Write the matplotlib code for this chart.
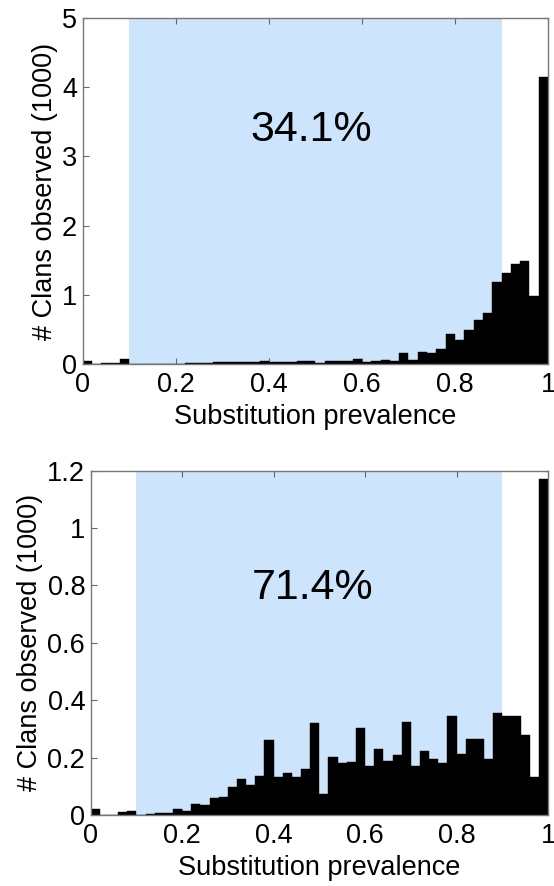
import matplotlib
matplotlib.use("Agg")
import matplotlib.pyplot as plt
import numpy as np

plt.rcParams["font.family"] = ["Liberation Sans", "DejaVu Sans"]

# histogram bins: 50 bins of width 0.02 on [0, 1]
bin_edges = np.linspace(0, 1, 51)

# counts per bin, in thousands of clans
counts_top = [
    0.04, 0.0, 0.01, 0.02, 0.072, 0.005, 0.005, 0.005, 0.005, 0.005,
    0.005, 0.02, 0.02, 0.02, 0.025, 0.025, 0.025, 0.025, 0.035, 0.05,
    0.035, 0.035, 0.035, 0.045, 0.05, 0.015, 0.045, 0.05, 0.04, 0.07,
    0.035, 0.05, 0.06, 0.05, 0.155, 0.06, 0.18, 0.155, 0.22, 0.43,
    0.34, 0.49, 0.63, 0.74, 1.19, 1.31, 1.44, 1.49, 0.98, 4.15,
]
counts_bottom = [
    0.02, 0.0, 0.0, 0.012, 0.015, 0.0, 0.002, 0.008, 0.006, 0.021,
    0.013, 0.038, 0.035, 0.059, 0.063, 0.096, 0.124, 0.103, 0.135, 0.26,
    0.131, 0.145, 0.134, 0.161, 0.32, 0.072, 0.204, 0.182, 0.186, 0.305,
    0.172, 0.23, 0.187, 0.208, 0.325, 0.17, 0.224, 0.194, 0.181, 0.344,
    0.214, 0.266, 0.266, 0.195, 0.357, 0.345, 0.345, 0.279, 0.131, 1.17,
]

shade_range = (0.1, 0.9)
labels = ["34.1%", "71.4%"]
ylims = [5, 1.2]
yticks = [[0, 1, 2, 3, 4, 5], [0, 0.2, 0.4, 0.6, 0.8, 1.0, 1.2]]
xticks = [0, 0.2, 0.4, 0.6, 0.8, 1.0]
label_pos = [(0.49, 3.38), (0.486, 0.79)]


def fmt(v):
    return "%g" % v


fig = plt.figure(figsize=(5.54, 8.86), dpi=100)
ax_top = fig.add_axes([0.1493, 0.5892, 0.8400, 0.3905])
ax_bot = fig.add_axes([0.1637, 0.0801, 0.8255, 0.3886])

for ax, counts, ymax, yt, txt, pos in zip(
    [ax_top, ax_bot], [counts_top, counts_bottom], ylims, yticks, labels, label_pos
):
    ax.axvspan(*shade_range, color="#cce5fc", lw=0, zorder=0)
    ax.bar(bin_edges[:-1], counts, width=np.diff(bin_edges), align="edge",
           color="black", edgecolor="black", linewidth=0.3, zorder=2)
    ax.set_xlim(0, 1)
    ax.set_ylim(0, ymax)
    ax.set_xticks(xticks)
    ax.set_xticklabels([fmt(v) for v in xticks])
    ax.set_yticks(yt)
    ax.set_yticklabels([fmt(v) for v in yt])
    ax.tick_params(direction="in", length=4, width=0.8, color="#666666",
                   top=True, right=True, labelsize=19.5, pad=4)
    ax.tick_params(axis="x", pad=6)
    for s in ax.spines.values():
        s.set_color("#777777")
        s.set_linewidth(1.0)
        s.set_zorder(3)
    ax.set_xlabel("Substitution prevalence", fontsize=19.5, labelpad=4)
    ax.set_ylabel("# Clans observed (1000)", fontsize=19.5, labelpad=3)
    ax.text(pos[0], pos[1], txt, fontsize=31, ha="center", va="center", zorder=4)

fig.savefig("out.png", dpi=100)
